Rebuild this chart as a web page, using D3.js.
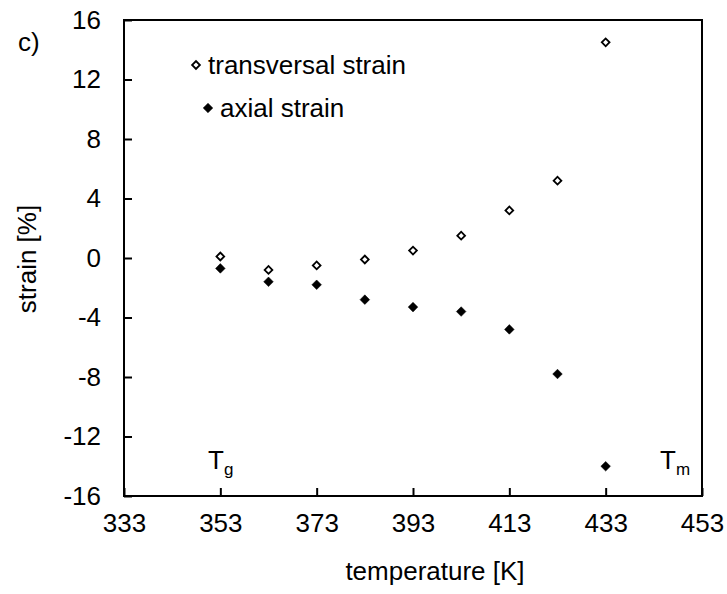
<!DOCTYPE html>
<html>
<head>
<meta charset="utf-8">
<script src="https://cdn.jsdelivr.net/npm/d3@7"></script>
<style>
  body { margin: 0; background: #fff; }
  text { font-family: "Liberation Sans", Arial, sans-serif; fill: #000; }
</style>
</head>
<body>
<svg id="chart" width="727" height="594"></svg>
<script>
'use strict';

var temperatures = [353, 363, 373, 383, 393, 403, 413, 423, 433];
var transversalStrain = [0.1, -0.8, -0.5, -0.1, 0.5, 1.5, 3.2, 5.2, 14.5];
var axialStrain = [-0.7, -1.6, -1.8, -2.8, -3.3, -3.6, -4.8, -7.8, -14.0];
var xTicks = [333, 353, 373, 393, 413, 433, 453];
var yTicks = [-16, -12, -8, -4, 0, 4, 8, 12, 16];

var margin = {top: 20, right: 25, bottom: 98, left: 124};
var width = 727 - margin.left - margin.right;
var height = 594 - margin.top - margin.bottom;

var svg = d3.select('#chart');
var g = svg.append('g')
  .attr('transform', 'translate(' + margin.left + ',' + margin.top + ')');

var x = d3.scaleLinear().domain([333, 453]).range([0, width]);
var y = d3.scaleLinear().domain([-16, 16]).range([height, 0]);

// plain hyphen for negatives, like the original
function plain(d) {
  return String(d);
}

function styleAxis(sel) {
  sel.select('.domain').remove();
  sel.selectAll('.tick line').attr('stroke', '#000').attr('stroke-width', 2);
  sel.selectAll('.tick text').style('font-size', '26px').attr('fill', '#000');
}

// axes, ticks point inward
g.append('g')
  .attr('transform', 'translate(0,' + height + ')')
  .call(d3.axisBottom(x).tickValues(xTicks).tickFormat(plain)
    .tickSizeInner(-8).tickSizeOuter(0).tickPadding(18))
  .call(styleAxis);

g.append('g')
  .call(d3.axisLeft(y).tickValues(yTicks).tickFormat(plain)
    .tickSizeInner(-8).tickSizeOuter(0).tickPadding(23))
  .call(styleAxis);

// frame
g.append('rect')
  .attr('width', width)
  .attr('height', height)
  .attr('fill', 'none')
  .attr('stroke', '#000')
  .attr('stroke-width', 2);

var diamond = d3.symbol().type(d3.symbolSquare);

function drawSeries(values, filled) {
  g.append('g')
    .selectAll('path')
    .data(values)
    .join('path')
    .attr('d', diamond.size(filled ? 46 : 30)())
    .attr('transform', function(d, i) {
      return 'translate(' + x(temperatures[i]) + ',' + y(d) + ') rotate(45)';
    })
    .attr('fill', filled ? '#000' : '#fff')
    .attr('stroke', '#000')
    .attr('stroke-width', filled ? 0.5 : 1.8);
}

drawSeries(transversalStrain, false);
drawSeries(axialStrain, true);

// legend
var legend = [
  {label: 'transversal strain', filled: false, x: 196, y: 65},
  {label: 'axial strain', filled: true, x: 208, y: 108}
];
legend.forEach(function(item) {
  svg.append('path')
    .attr('d', diamond.size(item.filled ? 46 : 30)())
    .attr('transform', 'translate(' + item.x + ',' + item.y + ') rotate(45)')
    .attr('fill', item.filled ? '#000' : '#fff')
    .attr('stroke', '#000')
    .attr('stroke-width', item.filled ? 0.5 : 1.8);
  svg.append('text')
    .attr('x', item.x + 12)
    .attr('y', item.y + 9)
    .style('font-size', '26px')
    .text(item.label);
});

// axis titles
svg.append('text')
  .attr('transform', 'translate(36,259) rotate(-90)')
  .attr('text-anchor', 'middle')
  .style('font-size', '26px')
  .text('strain [%]');

svg.append('text')
  .attr('x', 435)
  .attr('y', 580)
  .attr('text-anchor', 'middle')
  .style('font-size', '26px')
  .text('temperature [K]');

svg.append('text')
  .attr('x', 18)
  .attr('y', 51)
  .style('font-size', '26px')
  .text('c)');

// Tg and Tm labels
function tempLabel(xPos, sub) {
  var t = svg.append('text')
    .attr('x', xPos)
    .attr('y', 469)
    .style('font-size', '26px');
  t.append('tspan').text('T');
  t.append('tspan')
    .attr('dy', 6)
    .style('font-size', '17px')
    .text(sub);
}
tempLabel(208, 'g');
tempLabel(660, 'm');
</script>
</body>
</html>
